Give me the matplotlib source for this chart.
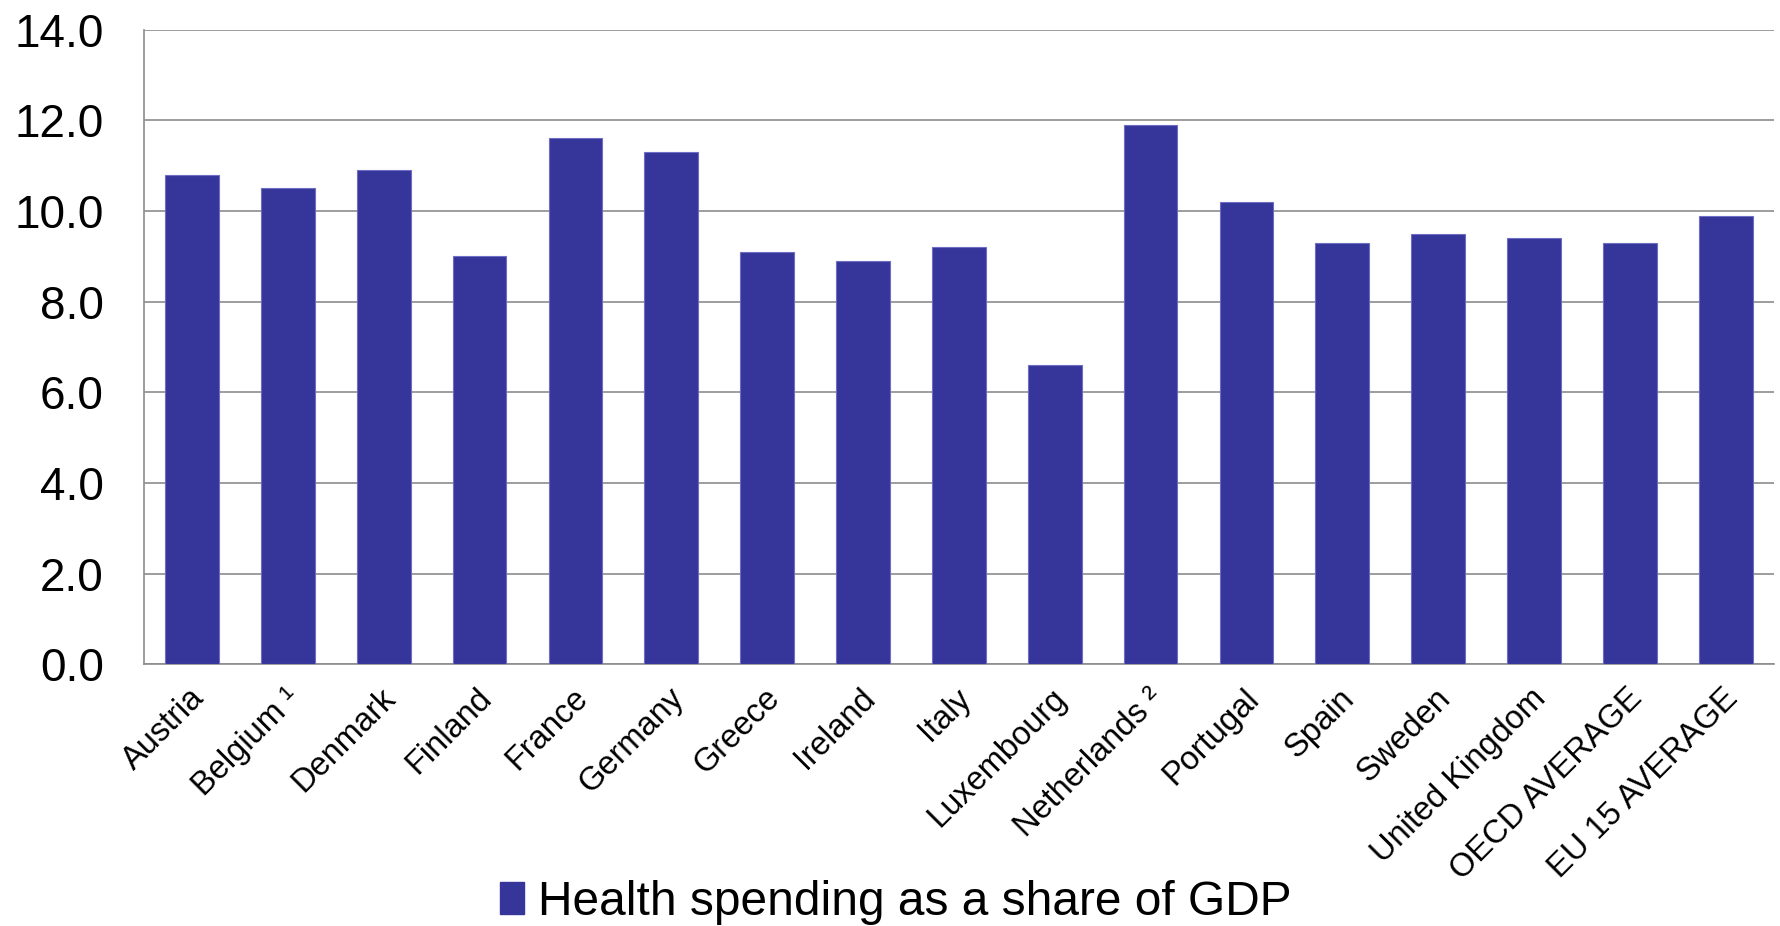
import matplotlib
matplotlib.use("Agg")
import matplotlib.pyplot as plt
import matplotlib.transforms as mtransforms
from matplotlib.patches import Patch

plt.rcParams['font.family'] = ['Liberation Sans', 'DejaVu Sans']

countries = ["Austria", "Belgium \u00b9", "Denmark", "Finland", "France", "Germany",
             "Greece", "Ireland", "Italy", "Luxembourg", "Netherlands \u00b2",
             "Portugal", "Spain", "Sweden", "United Kingdom", "OECD AVERAGE",
             "EU 15 AVERAGE"]
share_gdp = [10.8, 10.5, 10.9, 9.0, 11.6, 11.3, 9.1, 8.9, 9.2, 6.6, 11.9,
             10.2, 9.3, 9.5, 9.4, 9.3, 9.9]
y_ticks = [0.0, 2.0, 4.0, 6.0, 8.0, 10.0, 12.0, 14.0]
series_label = "Health spending as a share of GDP"

bar_color = "#35359a"
grid_color = "#8c8c8c"

fig = plt.figure(figsize=(17.81, 9.26), dpi=100)
ax = fig.add_axes([0.0809, 0.2824, 0.915, 0.6856])

x = range(len(countries))
ax.bar(x, share_gdp, width=0.56, color=bar_color, edgecolor="#6e6ec4",
       linewidth=0.8, zorder=3)

ax.set_xlim(-0.5, len(countries) - 0.5)
ax.set_ylim(0, 14)
ax.set_yticks(y_ticks)
ax.set_yticklabels([f"{v:.1f}" for v in y_ticks], fontsize=33)
ax.yaxis.grid(True, color=grid_color, linewidth=1.2, zorder=0)
ax.set_axisbelow(True)

ax.set_xticks(list(x))
ax.set_xticklabels(countries, fontsize=23.5, rotation=45, ha="right",
                   va="center", rotation_mode="anchor")
ax.tick_params(axis="x", length=0, pad=21)
ax.tick_params(axis="y", length=0, pad=29)

# nudge the slanted category labels so their ends sit just right of each bar centre
shift = mtransforms.ScaledTranslation(0.075, 0.0, fig.dpi_scale_trans)
for lbl in ax.get_xticklabels():
    lbl.set_transform(lbl.get_transform() + shift)

for side in ("top", "right"):
    ax.spines[side].set_visible(False)
for side in ("left", "bottom"):
    ax.spines[side].set_color(grid_color)
    ax.spines[side].set_linewidth(1.2)

handle = Patch(facecolor=bar_color, edgecolor=bar_color)
fig.legend([handle], [series_label], loc="lower center",
           bbox_to_anchor=(0.503, -0.045), frameon=False, fontsize=34.5,
           handlelength=0.5, handleheight=0.65, handletextpad=0.3)

fig.savefig("out.png", dpi=100)
